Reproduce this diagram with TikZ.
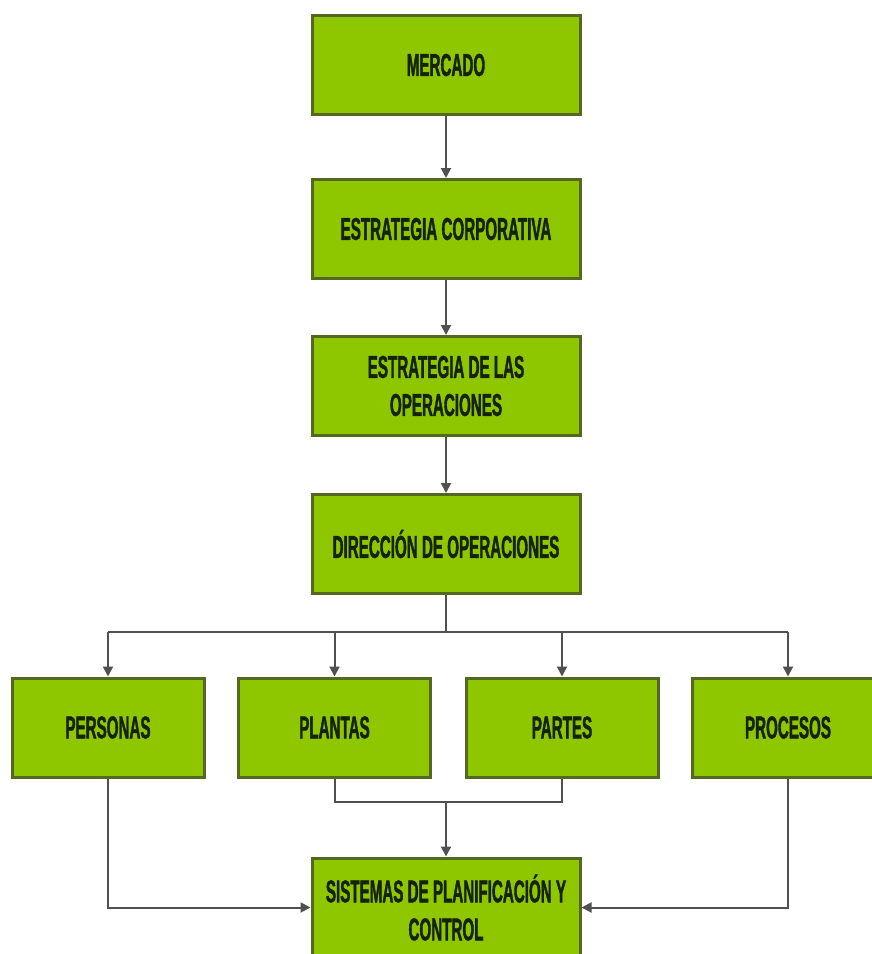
\documentclass[tikz,border=0pt]{standalone}
\usepackage{fontspec}
\newfontfamily\boxfont[FakeStretch=0.48,FakeBold=1.2]{Liberation Sans}
\usetikzlibrary{arrows.meta}
\definecolor{boxgreen}{RGB}{142,199,0}
\definecolor{boxedge}{RGB}{84,104,34}
\definecolor{boxtext}{RGB}{22,34,4}
\definecolor{linegray}{RGB}{80,80,80}

\begin{document}
\begin{tikzpicture}[x=0.5pt,y=-0.5pt,
    bloque/.style={draw=boxedge,line width=1.5pt,fill=boxgreen,text=boxtext,
        font=\boxfont\bfseries\fontsize{15.8}{19}\selectfont,align=center,
        minimum width=134pt,minimum height=49.5pt,inner sep=0pt},
    chico/.style={bloque,minimum width=96pt},
    linea/.style={draw=linegray,line width=1pt},
    flecha/.style={linea,-{Triangle[length=5pt,width=5pt]}}]
    \clip (0,0) rectangle (872,954);
    \useasboundingbox (0,0) rectangle (872,954);
    \fill[white] (0,0) rectangle (872,954);
    \node[bloque] (mercado) at (446,65) {MERCADO};
    \node[bloque] (corporativa) at (446,229) {ESTRATEGIA CORPORATIVA};
    \node[bloque] (estrategia) at (446,386) {ESTRATEGIA DE LAS\\OPERACIONES};
    \node[bloque] (direccion) at (446,544) {DIRECCIÓN DE OPERACIONES};
    \node[chico] (personas) at (108,727.5) {PERSONAS};
    \node[chico] (plantas) at (334.5,727.5) {PLANTAS};
    \node[chico] (partes) at (562,727.5) {PARTES};
    \node[chico] (procesos) at (788,727.5) {PROCESOS};
    \node[bloque] (sistemas) at (446,907.5) {SISTEMAS DE PLANIFICACIÓN Y\\CONTROL};
    \coordinate (bus) at (446,632);
    \coordinate (union) at (446,802);
    \draw[flecha] (mercado) -- (corporativa);
    \draw[flecha] (corporativa) -- (estrategia);
    \draw[flecha] (estrategia) -- (direccion);
    \draw[linea] (direccion) -- (bus);
    \draw[linea] (personas.north |- bus) -- (procesos.north |- bus);
    \foreach \n in {personas,plantas,partes,procesos}
        \draw[flecha] (\n.north |- bus) -- (\n.north);
    \draw[linea] (plantas.south) |- (union) -| (partes.south);
    \draw[flecha] (union) -- (sistemas);
    \draw[flecha] (personas.south) |- (sistemas.west);
    \draw[flecha] (procesos.south) |- (sistemas.east);
\end{tikzpicture}
\end{document}
